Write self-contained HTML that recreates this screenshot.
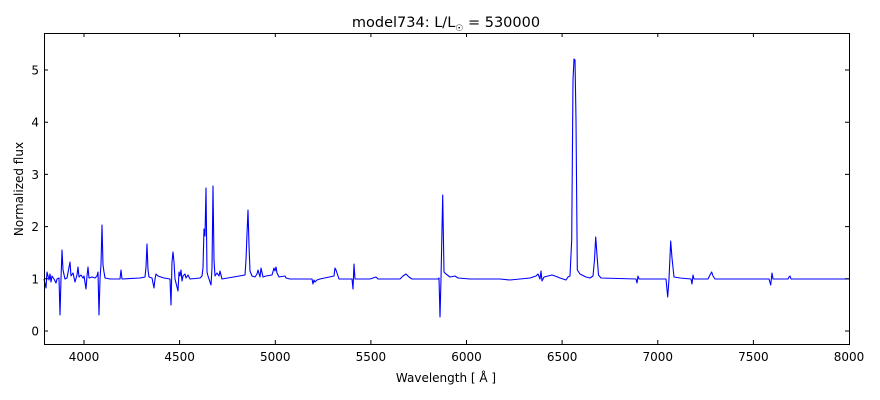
<!DOCTYPE html>
<html><head><meta charset="utf-8"><style>
body{margin:0;background:#fff;}
svg{display:block;font-family:"DejaVu Sans","Liberation Sans",sans-serif;}
</style></head><body>
<svg width="880" height="400" viewBox="0 0 880 400" xmlns="http://www.w3.org/2000/svg">
<rect width="880" height="400" fill="#fff"/>
<polyline fill="none" stroke="#0000ff" stroke-width="1.1" stroke-linejoin="round" points="
44,279 46,288 47,272 49,280 50,274 51,282 52,276 54,279 56,283 57,279 59,278 60,315 61,279 62,250 63,270 65,279 67,278 70,262 71,276 73,273 75,282 77,275 78,267 79,277 81,275 83,278 84,276 86,289 87,276 88,267 89,278 92,277 95,278 97,276 98,272 99,315 100,279 101,264 102,225 103,265 104,272 105,278 110,279 120,279 121,270 122,279 140,278 145,277 146,267 147,244 148,270 149,277 152,278 154,288 155,279 156,274 158,276 164,278 170,279 171,305 172,262 173,252 174,262 175,279 178,291 179,272 180,276 181,270 182,281 183,276 185,274 186,278 188,275 190,279 200,278 202,276 203,268 204,229 205,236 206,188 207,272 208,276 211,285 212,268 213,186 214,260 215,276 217,273 219,276 220,271 222,279 245,275 246,260 247,234 248,210 249,245 250,271 252,276 255,277 257,274 258,270 260,277 261,268 263,277 266,276 272,275 274,268 275,271 276,267 277,273 279,277 285,276 286,278 290,279 312,279 313,284 314,280 315,282 317,280 320,279 334,276 335,268 336,270 337,273 339,279 352,279 353,289 354,264 355,279 370,279 376,277 378,279 400,279 403,276 406,274 409,277 412,279 438,279 439,278 440,317 441,279 442.7,195 444,272 446,274 450,277 455,276 458,278 470,279 500,279 510,280 520,279 530,278 536,276 538,274 540,279 541,271 542,281 544,277 548,276 552,275 555,276 560,278 566,280 568,277 570,276 571.7,240 573,80 574,59 575,60 576,120 577.3,270 580,274 586,277 590,278 593,276 594.5,260 595.7,237 597,255 598.5,275 601,278 636,279 637,283 638,276 639,279 660,279 666,279 667.7,297 669,279 670.7,241 672,258 674,277 680,278 691,279 692,284 693,275 694,279 708,279 710,275 711.7,272 713,276 715,279 769,279 770.7,285 772,273 773,279 788,279 789,277 790,276 791,279 849,279"/>
<g fill="none" stroke="#000" stroke-width="1">
<rect x="44.5" y="33.5" width="805" height="311"/>
</g>
<g stroke="#000" stroke-width="1">
<path d="M84,344v-4M84,33v4M179.6,344v-4M179.6,33v4M275.3,344v-4M275.3,33v4M370.9,344v-4M370.9,33v4M466.5,344v-4M466.5,33v4M562.1,344v-4M562.1,33v4M657.8,344v-4M657.8,33v4M753.4,344v-4M753.4,33v4"/>
<path d="M44,331h4M849,331h-4M44,278.8h4M849,278.8h-4M44,226.6h4M849,226.6h-4M44,174.4h4M849,174.4h-4M44,122.2h4M849,122.2h-4M44,70h4M849,70h-4"/>
</g>
<g font-size="12" fill="#000" text-anchor="middle">
<text x="84" y="361">4000</text><text x="179.6" y="361">4500</text><text x="275.3" y="361">5000</text><text x="370.9" y="361">5500</text><text x="466.5" y="361">6000</text><text x="562.1" y="361">6500</text><text x="657.8" y="361">7000</text><text x="753.4" y="361">7500</text><text x="849" y="361">8000</text>
</g>
<g font-size="12" fill="#000" text-anchor="end">
<text x="39" y="335.5">0</text><text x="39" y="283.3">1</text><text x="39" y="231.1">2</text><text x="39" y="178.9">3</text><text x="39" y="126.7">4</text><text x="39" y="74.5">5</text>
</g>
<text x="446" y="382" font-size="12" text-anchor="middle">Wavelength [ Å ]</text>
<text transform="translate(23,189) rotate(-90)" font-size="12" text-anchor="middle">Normalized flux</text>
<text x="446" y="27" font-size="14.5" text-anchor="middle">model734: L/L<tspan font-size="9" dy="4">☉</tspan><tspan dy="-4"> = 530000</tspan></text>
</svg>
</body></html>
